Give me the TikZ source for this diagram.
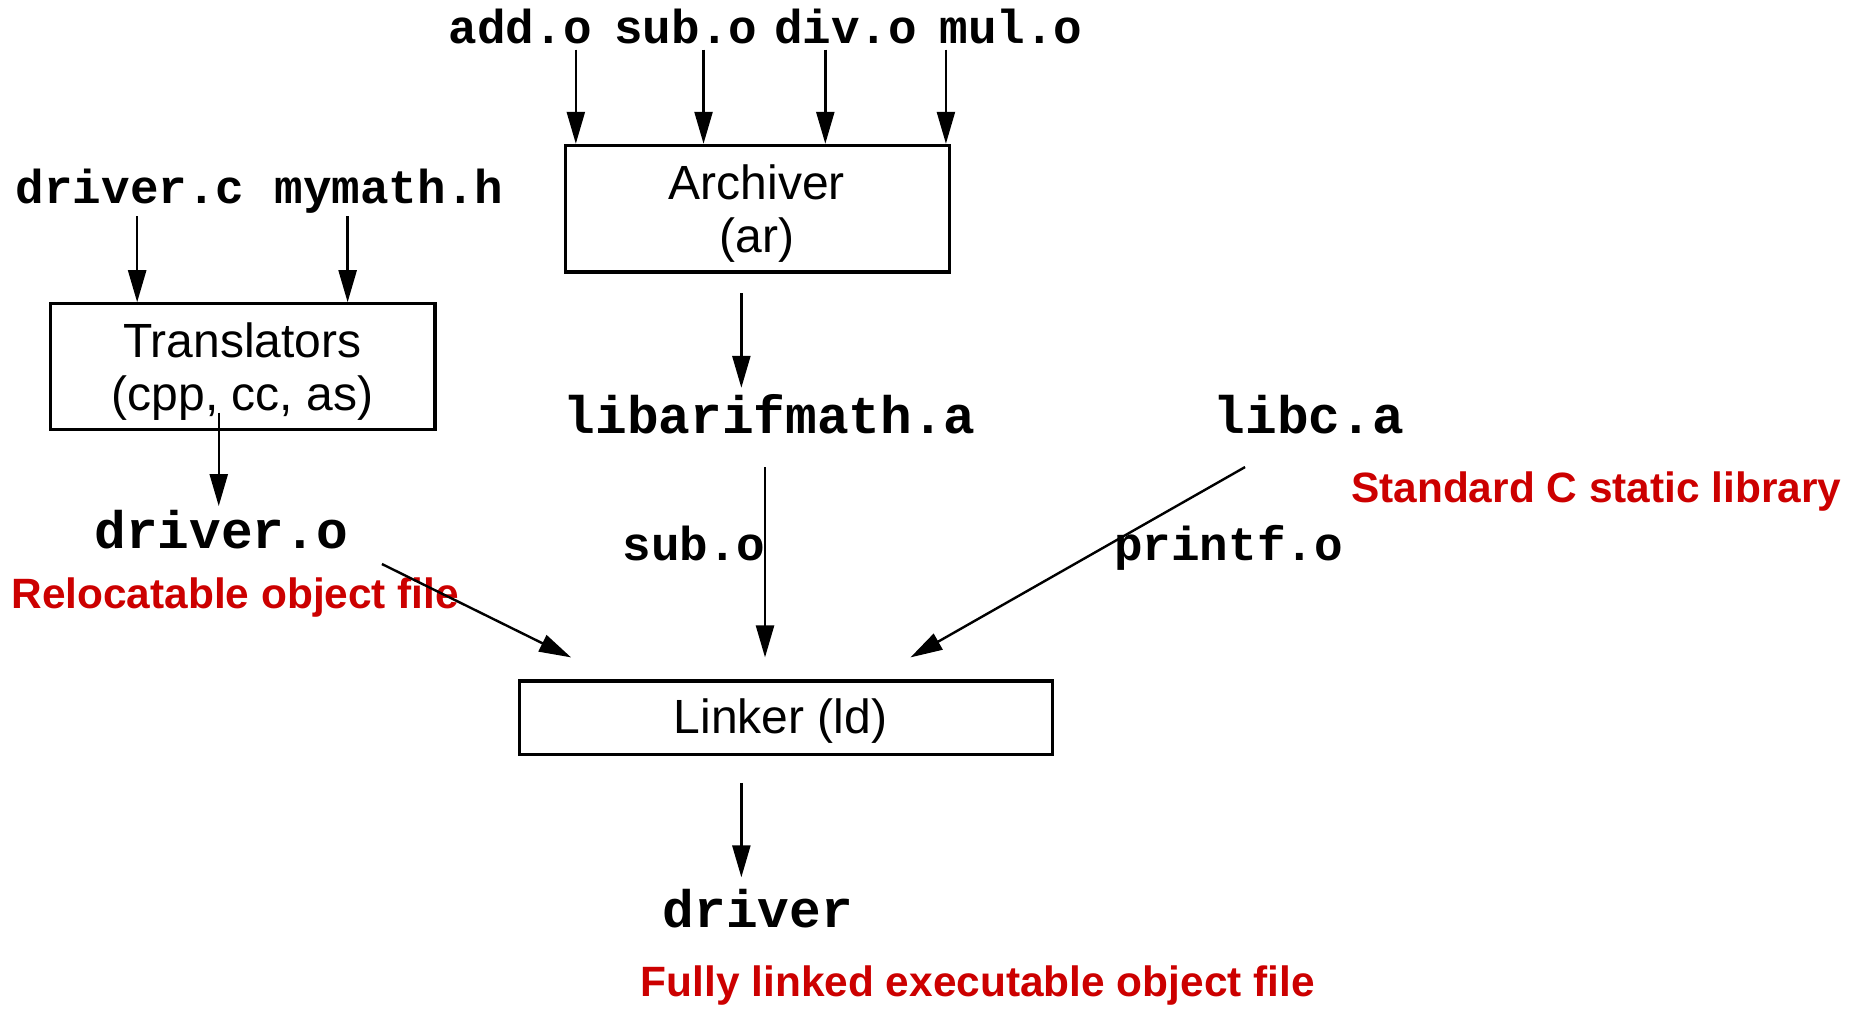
\documentclass[tikz,border=0pt]{standalone}
\usepackage{fontspec}
\setmainfont{Liberation Sans}
\newfontfamily\codefont{Liberation Mono}
\usetikzlibrary{arrows.meta}
\definecolor{notered}{RGB}{204,0,0}

\begin{document}
\begin{tikzpicture}[x=0.5912pt,y=-0.5912pt,
  file/.style={font=\codefont\bfseries\fontsize{23.8pt}{26pt}\selectfont, anchor=base, inner sep=0pt},
  bigfile/.style={font=\codefont\bfseries\fontsize{26.4pt}{28pt}\selectfont, anchor=base, inner sep=0pt},
  tool/.style={draw, line width=1.6pt, inner sep=0pt},
  tooltext/.style={inner sep=0pt, align=center, font=\fontsize{24pt}{26.6pt}\selectfont},
  note/.style={text=notered, font=\bfseries\fontsize{21.2pt}{24pt}\selectfont, anchor=base, inner sep=0pt},
  flow/.style={line width=1.2pt, -{Triangle[length=16pt,width=9pt]}}]
\useasboundingbox (0,0) rectangle (1568,853);

% archive members
\node[file] (add) at (440,37) {add.o};
\node[file] (subtop) at (580,37) {sub.o};
\node[file] (div) at (715,37) {div.o};
\node[file] (mul) at (855,37) {mul.o};

% sources
\node[file] (drc) at (110,172) {driver.c};
\node[file] (mmh) at (329,172) {mymath.h};

% tools: frames and their captions
\node[tool, minimum width=192.1pt, minimum height=63.3pt] (arch) at (640.5,176.5) {};
\node[tooltext] (archtxt) at (640,180.5) {Archiver\\(ar)};
\node[tool, minimum width=192.1pt, minimum height=62.7pt] (trans) at (205.5,310) {};
\node[tooltext] (transtxt) at (205,314) {Translators\\(cpp, cc, as)};
\node[tool, minimum width=266.6pt, minimum height=36.7pt] (link) at (664.5,607) {};
\node[tooltext] (linktxt) at (660,610) {Linker (ld)};

% libraries and objects
\node[bigfile] (libm) at (651,367) {libarifmath.a};
\node[bigfile] (libc) at (1107,367) {libc.a};
\node[bigfile] (dro) at (187,464) {driver.o};
\node[file] (subo) at (587,474) {sub.o};
\node[file] (prf) at (1039,474) {printf.o};
\node[bigfile] (drv) at (641,784) {driver};

% annotations
\node[note] (stdc) at (1350,425) {Standard C static library};
\node[note] (reloc) at (199,515) {Relocatable object file};
\node[note] (exec) at (827,843) {Fully linked executable object file};

% arrow endpoints
\coordinate (a1) at (487,42);
\coordinate (a2) at (595,42);
\coordinate (a3) at (698,42);
\coordinate (a4) at (800,42);
\coordinate (c1) at (116,183);
\coordinate (c2) at (294,183);
\coordinate (t1) at (185,349);
\coordinate (t2) at (185,428);
\coordinate (r1) at (627,248);
\coordinate (r2) at (627,328);
\coordinate (o1) at (323,477);
\coordinate (o2) at (483,556);
\coordinate (s1) at (647,395);
\coordinate (s2) at (647,556);
\coordinate (p1) at (1053,395);
\coordinate (p2) at (770,556);
\coordinate (l1) at (627,662);
\coordinate (l2) at (627,742);

\draw[flow] (a1) -- (a1 |- arch.north);
\draw[flow] (a2) -- (a2 |- arch.north);
\draw[flow] (a3) -- (a3 |- arch.north);
\draw[flow] (a4) -- (a4 |- arch.north);
\draw[flow] (c1) -- (c1 |- trans.north);
\draw[flow] (c2) -- (c2 |- trans.north);
\draw[flow] (t1) -- (t2);
\draw[flow] (r1) -- (r2);
\draw[flow] (o1) -- (o2);
\draw[flow] (s1) -- (s2);
\draw[flow] (p1) -- (p2);
\draw[flow] (l1) -- (l2);
\end{tikzpicture}
\end{document}
